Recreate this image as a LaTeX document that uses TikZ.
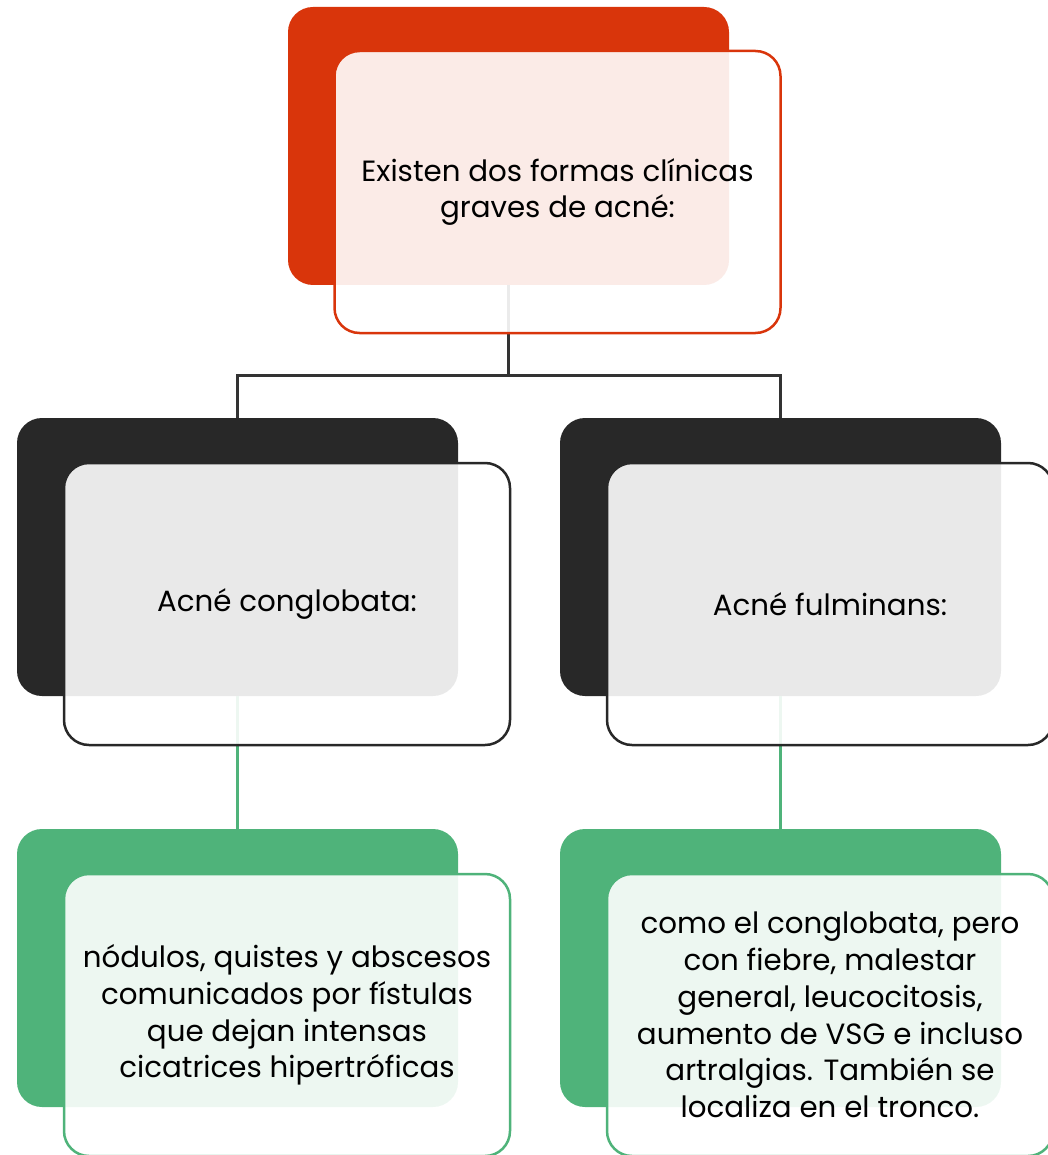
\documentclass[tikz,border=0pt]{standalone}
\usepackage{fontspec}
\setmainfont{Poppins}
\definecolor{rojo}{HTML}{D9350B}
\definecolor{oscuro}{HTML}{282828}
\definecolor{verde}{HTML}{4FB37A}
\definecolor{linea}{HTML}{333333}
\begin{document}
\begin{tikzpicture}[x=1pt,y=-1pt,
  backbox/.style={draw=none, rounded corners=25pt, inner sep=0pt,
    minimum width=441pt, minimum height=278pt},
  frontbox/.style={rounded corners=25pt, inner sep=0pt, line width=2.5pt,
    minimum width=446pt, minimum height=282pt,
    fill=white, fill opacity=0.9, text opacity=1, align=center,
    font=\fontsize{29.3}{36.8}\selectfont},
  conn/.style={line width=3pt, draw=linea},
  connv/.style={line width=3pt, draw=verde}]
  \useasboundingbox (0,0) rectangle (1048,1155);

  % coloured back panels
  \node[backbox, fill=rojo]   (topback) at (508.5,146) {};
  \node[backbox, fill=oscuro] (lback)   at (237.5,557) {};
  \node[backbox, fill=oscuro] (rback)   at (780.5,557) {};
  \node[backbox, fill=verde]  (blback)  at (237.5,968) {};
  \node[backbox, fill=verde]  (brback)  at (780.5,968) {};

  % connectors
  \coordinate (junction) at (508.5,375);
  \draw[conn] (topback.south) -- (junction) -| (lback.north);
  \draw[conn] (junction) -| (rback.north);
  \draw[connv] (lback.south) -- (blback.north);
  \draw[connv] (rback.south) -- (brback.north);

  % translucent front panels with the texts
  \node[frontbox, draw=rojo] (top) at (557.5,192)
    {Existen dos formas clínicas\\graves de acné:};
  \node[frontbox, draw=oscuro] (left) at (287,604) {Acné conglobata:};
  \node[frontbox, draw=oscuro] (right) at (830,604) {Acné fulminans:};
  \node[frontbox, draw=verde] (botleft) at (287,1015)
    {nódulos, quistes y abscesos\\comunicados por fístulas\\que dejan intensas\\cicatrices hipertróficas};
  \node[frontbox, draw=verde] (botright) at (830,1015)
    {como el conglobata, pero\\con fiebre, malestar\\general, leucocitosis,\\aumento de VSG e incluso\\artralgias. También se\\localiza en el tronco.};
\end{tikzpicture}
\end{document}
